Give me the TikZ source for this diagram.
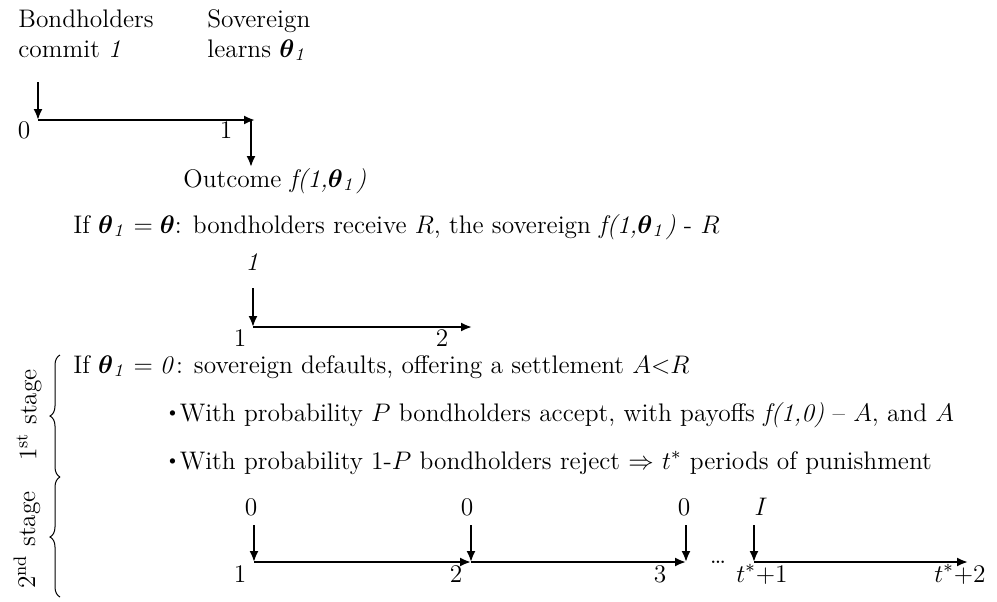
\RequirePackage{fix-cm}
\documentclass[tikz,border=0pt]{standalone}
\usepackage{amssymb, mathtools, amsmath}
\usepackage{tikz}
\usetikzlibrary{arrows.meta,decorations.pathreplacing}

\newcommand{\thone}{\boldsymbol{\theta}_{\mathit{1}}}
\newcommand{\smbul}{\raisebox{0.28ex}{\fontsize{9}{9}\selectfont\textbullet}}

\begin{document}
\begin{tikzpicture}[x=0.5pt,y=0.5pt,yscale=-1,xscale=1,
  every node/.style={inner sep=0pt,font=\fontsize{12.7}{15}\selectfont},
  tl/.style={line width=1pt,-{Latex[length=5.5pt,width=4.5pt]}},
  brc/.style={line width=0.5pt,decorate,decoration={brace,amplitude=5pt}}]
\path (0,0) rectangle (997,601); %set diagram size

% Points of the first time line
\coordinate (a0) at (38,82);
\coordinate (a1) at (38,120);
\coordinate (a2) at (255,120);
\coordinate (a3) at (251,120);
\coordinate (a4) at (251,167);
% Points of the second time line
\coordinate (b0) at (253,288);
\coordinate (b1) at (253,327);
\coordinate (b2) at (472,327);
% Points of the third time line
\coordinate (c1) at (254,562);
\coordinate (c2) at (471,562);
\coordinate (c3) at (686,562);
\coordinate (c4) at (754,562);
\coordinate (c5) at (968,562);
\coordinate (d1) at (254,525);
\coordinate (d2) at (471,525);
\coordinate (d3) at (686,525);
\coordinate (d4) at (754,525);

%Straight Lines
\draw [tl] (a0) -- (a1);
\draw [tl] (a1) -- (a2);
\draw [tl] (a3) -- (a4);
%Straight Lines
\draw [tl] (b0) -- (b1);
\draw [tl] (b1) -- (b2);
%Straight Lines
\draw [tl] (d1) -- (c1);
\draw [tl] (c1) -- (c2);
\draw [tl] (d2) -- (c2);
\draw [tl] (c2) -- (c3);
\draw [tl] (d3) -- (c3);
\draw [tl] (d4) -- (c4);
\draw [tl] (c4) -- (c5);

%Braces
\coordinate (k0) at (60,597);
\coordinate (k1) at (60,477);
\coordinate (k2) at (60,355);
\draw [brc] (k0) -- (k1);
\draw [brc] (k1) -- (k2);

% Text Node
\node (bond) [anchor=base west] at (18,27) {Bondholders};
% Text Node
\node (commit) [anchor=base west] at (18,57) {commit \textit{1}};
% Text Node
\node (sov) [anchor=base west] at (207,27) {Sovereign};
% Text Node
\node (learn) [anchor=base west] at (207,57) {learns $\thone$};
% Text Node
\node (ta0) [anchor=base] at (24,138) {0};
% Text Node
\node (ta1) [anchor=base] at (226,138) {1};
% Text Node
\node (outc) [anchor=base west] at (183,187) {Outcome \textit{f(1,}$\thone$\textit{)}};
% Text Node
\node (good) [anchor=base west] at (73,233) {If $\thone=\boldsymbol{\theta}$: bondholders receive $R$, the sovereign \textit{f(1,}$\thone$\textit{)} - $R$};
% Text Node
\node (pay1) [anchor=base] at (252,270) {\textit{1}};
% Text Node
\node (tb1) [anchor=base] at (240,346) {1};
% Text Node
\node (tb2) [anchor=base] at (442,346) {2};
% Text Node
\node (bad) [anchor=base west] at (73,373) {If $\thone = \mathit{0}$: sovereign defaults, offering a settlement $A{<}R$};
% Text Node
\node (acc) [anchor=base west] at (165,421) {\smbul With probability $P$ bondholders accept, with payoffs \textit{f(1,0)} -- $A$, and $A$};
% Text Node
\node (rej) [anchor=base west] at (165,469) {\smbul With probability 1-$P$ bondholders reject $\Rightarrow$ $t^{*}$ periods of punishment};
% Text Node
\node (st1) [rotate=90] at (29,415) {1\textsuperscript{st} stage};
% Text Node
\node (st2) [rotate=90] at (27,540) {2\textsuperscript{nd} stage};
% Text Node
\node (pc1) [anchor=base] at (251,515) {0};
% Text Node
\node (pc2) [anchor=base] at (467,515) {0};
% Text Node
\node (pc3) [anchor=base] at (684,515) {0};
% Text Node
\node (pc4) [anchor=base] at (761,515) {$I$};
% Text Node
\node (tc1) [anchor=base] at (240,582) {1};
% Text Node
\node (tc2) [anchor=base] at (456,582) {2};
% Text Node
\node (tc3) [anchor=base] at (660,582) {3};
% Text Node
\node (tc4) [anchor=base] at (762,582) {$t^{*}$+1};
% Text Node
\node (tc5) [anchor=base] at (960,582) {$t^{*}$+2};
% Text Node
\node (dots) [anchor=base] at (718,563) {\ldots};

\end{tikzpicture}
\end{document}
